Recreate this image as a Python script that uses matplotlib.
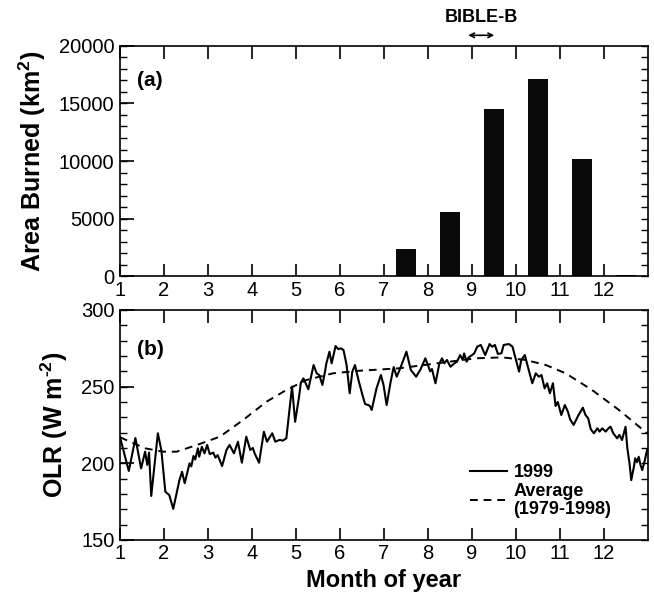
import matplotlib
matplotlib.use("Agg")
import matplotlib.pyplot as plt
from matplotlib.ticker import MultipleLocator

plt.rcParams['font.family'] = ['Liberation Sans', 'DejaVu Sans']
plt.rcParams['mathtext.fontset'] = 'custom'
plt.rcParams['mathtext.rm'] = 'Liberation Sans:bold'
plt.rcParams['mathtext.bf'] = 'Liberation Sans:bold'
plt.rcParams['mathtext.default'] = 'bf'

# ---- data -------------------------------------------------------------
bar_months = [1.5, 2.5, 3.5, 4.5, 5.5, 6.5, 7.5, 8.5, 9.5, 10.5, 11.5, 12.5]
area_burned = [0, 0, 0, 0, 0, 30, 2400, 5600, 14500, 17100, 10150, 100]

olr_month = [1.00, 1.20, 1.35, 1.48, 1.57, 1.62, 1.66, 1.71, 1.86, 1.94, 2.03, 2.12,
             2.21, 2.35, 2.41, 2.47, 2.58, 2.62, 2.67, 2.71, 2.77, 2.80, 2.86, 2.92,
             2.98, 3.04, 3.12, 3.17, 3.22, 3.32, 3.42, 3.49, 3.59, 3.68, 3.77, 3.87,
             3.96, 4.02, 4.06, 4.16, 4.27, 4.34, 4.46, 4.53, 4.63, 4.70, 4.78, 4.91,
             4.98, 5.07, 5.11, 5.17, 5.28, 5.40, 5.47, 5.53, 5.60, 5.66, 5.69, 5.76,
             5.81, 5.90, 5.96, 6.02, 6.08, 6.15, 6.22, 6.28, 6.34, 6.42, 6.51, 6.57,
             6.64, 6.68, 6.72, 6.83, 6.93, 6.99, 7.06, 7.15, 7.22, 7.29, 7.37, 7.51,
             7.61, 7.73, 7.83, 7.94, 8.01, 8.05, 8.09, 8.17, 8.26, 8.32, 8.37, 8.43,
             8.51, 8.60, 8.66, 8.73, 8.79, 8.82, 8.88, 8.92, 9.00, 9.05, 9.12, 9.20,
             9.30, 9.40, 9.46, 9.52, 9.59, 9.67, 9.72, 9.84, 9.92, 10.00, 10.07, 10.12,
             10.20, 10.27, 10.37, 10.45, 10.52, 10.58, 10.65, 10.71, 10.77, 10.84, 10.90,
             10.95, 11.03, 11.11, 11.18, 11.23, 11.31, 11.41, 11.52, 11.58, 11.64, 11.70,
             11.77, 11.85, 11.90, 11.96, 12.04, 12.10, 12.15, 12.21, 12.30, 12.35, 12.41,
             12.49, 12.53, 12.58, 12.62, 12.68, 12.71, 12.75, 12.79, 12.83, 12.87, 12.93,
             12.98]
olr_1999 = [217, 195, 216.5, 196.7, 207.6, 199, 207, 178.7, 219.6, 208.5, 181.5, 179.3,
            170.3, 189, 194.5, 187, 200, 198, 204.8, 202.5, 209.8, 204.3, 210.8, 206.5,
            212, 206, 207, 203.7, 205.4, 198.2, 208.7, 212, 206.5, 214.1, 200.4, 217.4,
            208.7, 210, 206.5, 200.4, 220.6, 214.1, 219.6, 214.1, 215.3, 214.8, 216.3, 250,
            227.1, 243.5, 252.6, 255.4, 248.3, 264.1, 258.7, 257.5, 251.1, 260, 265.2, 272.8,
            265.2, 276.5, 274.5, 275, 273.9, 264.1, 245.7, 259.8, 264.1, 254.3, 244.6, 238.7,
            238, 237.4, 234.8, 248.9, 257.6, 251, 238, 253, 262.8, 256.5, 262, 272.8,
            260.9, 256.5, 261.3, 268.5, 263, 260, 261.5, 252.2, 265.2, 268.5, 265.2, 267.4,
            263, 265.2, 266.3, 270.6, 267.4, 271.7, 266.3, 269, 270.6, 271.7, 276.1, 277.2,
            270.6, 277.8, 276, 277.2, 271.3, 271.8, 277.2, 277.8, 276.1, 267.4, 259.8, 267.4,
            270.6, 263, 252.2, 258.7, 256.5, 257.6, 248.9, 252.2, 245.7, 252.2, 237.4,
            240, 231.5, 238, 233.7, 228.7, 225, 230.9, 236.3, 231.5, 229.4, 222.2,
            219.6, 222.8, 220.7, 222.8, 220.7, 222.8, 223.9, 219.6, 216.3, 218.5, 215.2,
            223.9, 210, 200, 189, 197.8, 203.3, 200.7, 204.3, 198.9, 195.6, 202.2,
            208.7]

avg_month = [1.00, 1.57, 1.98, 2.29, 2.81, 3.27, 3.80, 4.33, 4.78, 5.23, 5.84, 6.44,
             6.74, 7.35, 8.33, 9.09, 9.69, 10.22, 10.68, 11.13, 11.73, 12.34, 12.98]
olr_avg = [217, 209.8, 207.6, 207.6, 212.6, 217.4, 228.3, 240.2, 247.8, 254.3, 258.7, 260.4,
           260.9, 262, 265.7, 268.5, 269.1, 267.4, 264.1, 258.7, 247.8, 234.8, 219.6]

month_ticks = list(range(1, 13))
campaign = [8.85, 9.57]

# ---- figure -----------------------------------------------------------
fig = plt.figure(figsize=(6.54, 6.01), dpi=100)
ax1 = fig.add_axes([0.1835, 0.540, 0.8073, 0.384])
ax2 = fig.add_axes([0.1835, 0.1015, 0.8073, 0.3827])

tick_fs = 14.5
label_fs = 18

def style(ax, major_y, minor_y):
    ax.set_xlim(1, 13)
    ax.set_xticks(month_ticks)
    ax.yaxis.set_major_locator(MultipleLocator(major_y))
    ax.yaxis.set_minor_locator(MultipleLocator(minor_y))
    ax.yaxis.remove_overlapping_locs = False
    ax.tick_params(axis='x', which='major', direction='in', top=True, bottom=True,
                   length=9, width=1.2, labelsize=tick_fs, pad=3)
    ax.tick_params(axis='y', which='major', direction='in', left=True, right=False,
                   length=10, width=1.2, labelsize=tick_fs, pad=4)
    ax.tick_params(axis='y', which='minor', direction='in', left=True, right=True,
                   length=5, width=1.0)
    for s in ax.spines.values():
        s.set_linewidth(1.2)

# panel (a)
ax1.bar(bar_months, area_burned, width=0.45, color='#0a0a0a', edgecolor='none')
ax1.set_ylim(0, 20000)
style(ax1, 5000, 1000)
ax1.set_ylabel('Area Burned (km$^{2}$)', fontsize=label_fs, fontweight='bold', labelpad=8)
ax1.text(0.032, 0.85, '(a)', transform=ax1.transAxes, fontsize=15, fontweight='bold',
         va='center', ha='left')
ax1.annotate('', xy=(campaign[0], 1.045), xytext=(campaign[1], 1.045),
             xycoords=('data', 'axes fraction'), textcoords=('data', 'axes fraction'),
             arrowprops=dict(arrowstyle='<->', lw=1.2, color='black',
                             mutation_scale=8), annotation_clip=False)
ax1.text(sum(campaign) / 2, 1.085, 'BIBLE-B', transform=ax1.get_xaxis_transform(),
         fontsize=13, fontweight='bold', ha='center', va='bottom')

# panel (b)
ax2.plot(olr_month, olr_1999, color='black', lw=1.5, label='1999')
ax2.plot(avg_month, olr_avg, color='black', lw=1.4, dashes=(4, 3),
         label='Average\n(1979-1998)')
ax2.set_ylim(150, 300)
style(ax2, 50, 10)
ax2.set_ylabel('OLR (W m$^{\\text{-2}}$)', fontsize=label_fs, fontweight='bold', labelpad=8)
ax2.set_xlabel('Month of year', fontsize=17, fontweight='bold', labelpad=4)
ax2.text(0.032, 0.83, '(b)', transform=ax2.transAxes, fontsize=15, fontweight='bold',
         va='center', ha='left')

leg = ax2.legend(loc='upper left', bbox_to_anchor=(0.663, 0.33), frameon=False,
                 prop={'weight': 'bold', 'size': 13}, handlelength=2.05,
                 handletextpad=0.35, borderpad=0, borderaxespad=0, labelspacing=0.1)
for t in leg.get_texts():
    t.set_linespacing(1.05)

fig.savefig('out.png', dpi=100)
